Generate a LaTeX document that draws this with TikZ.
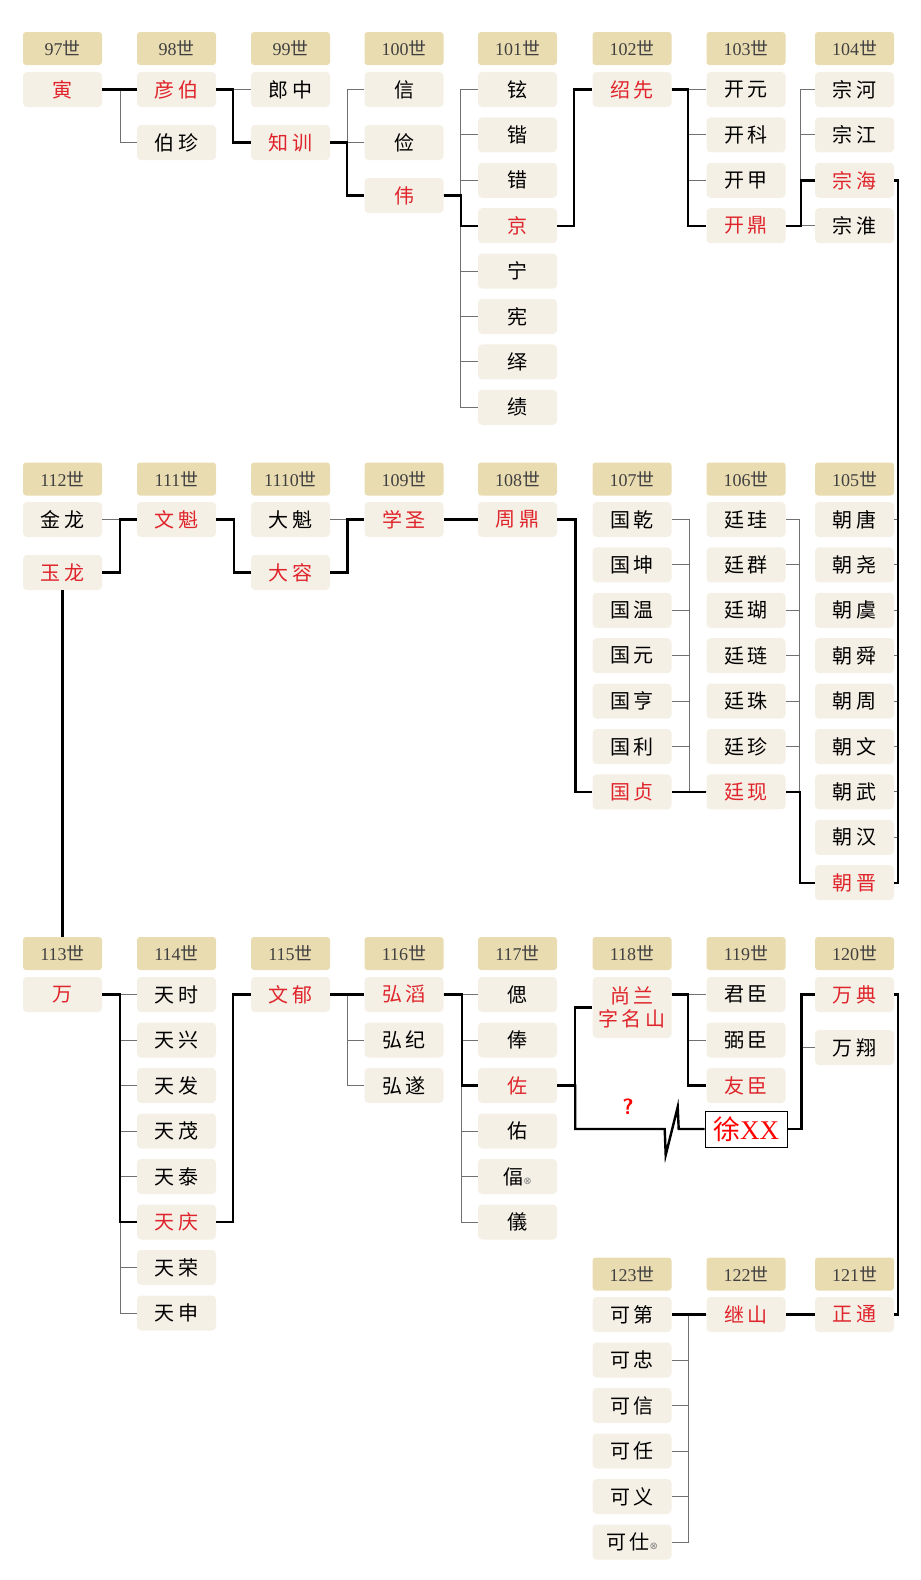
\documentclass[tikz,border=0pt]{standalone}
\usepackage{fontspec}
\setmainfont{Liberation Serif}
\newfontfamily\cjk[LetterSpace=18]{Noto Sans CJK SC}
\newfontfamily\cjkplain{Noto Sans CJK SC}
\newfontfamily\symfont{DejaVu Sans}

\definecolor{namebg}{HTML}{F4F0E6}
\definecolor{genbg}{HTML}{EADCB1}
\definecolor{heirred}{HTML}{E0242B}
\definecolor{twiggray}{HTML}{707070}

\newcommand{\shi}{{\cjkplain 世}}
\newcommand{\lost}{{\symfont\fontsize{10}{10}\selectfont\color{gray}⊗}}

\tikzset{
    genbox/.style={fill=genbg,rounded corners=3pt,minimum width=79pt,minimum height=33pt,inner sep=0pt,text=black!75,font=\fontsize{18}{18}\selectfont},
    kin/.style={fill=namebg,rounded corners=4pt,minimum width=79pt,minimum height=35pt,inner sep=0pt,font=\cjk\fontsize{20}{23}\selectfont},
    heir/.style={kin,text=heirred},
    guess/.style={draw,line width=0.6pt,fill=white,minimum width=82pt,minimum height=36pt,inner sep=0pt,text=red,font=\fontsize{27}{27}\selectfont},
    trunk/.style={line width=2.4pt},
    twig/.style={line width=1pt,twiggray},
}

\begin{document}
\begin{tikzpicture}[x=1pt,y=-1pt]
    \useasboundingbox (0,0) rectangle (921,1580);
    % generations 97 - 104
    \foreach \g/\x in {97/62.5,98/176.5,99/290.5,100/404,101/517.5,102/632,103/746,104/854.5}
        \node[genbox] (h\g) at (\x,48.5) {\g\shi};
    \node[heir] (g97-1) at (62.5,89.5) {寅};
    \foreach \n/\s [count=\i] in {彦伯/heir,伯珍/kin}
        \node[\s] (g98-\i) at (176.5,{89.5+53*(\i-1)}) {\n};
    \foreach \n/\s [count=\i] in {郎中/kin,知训/heir}
        \node[\s] (g99-\i) at (290.5,{89.5+53*(\i-1)}) {\n};
    \foreach \n/\s [count=\i] in {信/kin,俭/kin,伟/heir}
        \node[\s] (g100-\i) at (404,{89.5+53*(\i-1)}) {\n};
    \foreach \n/\s [count=\i] in {铉/kin,锴/kin,错/kin,京/heir,宁/kin,宪/kin,绎/kin,绩/kin}
        \node[\s] (g101-\i) at (517.5,{89.5+45.4*(\i-1)}) {\n};
    \node[heir] (g102-1) at (632,89.5) {绍先};
    \foreach \n/\s [count=\i] in {开元/kin,开科/kin,开甲/kin,开鼎/heir}
        \node[\s] (g103-\i) at (746,{89.5+45.4*(\i-1)}) {\n};
    \foreach \n/\s [count=\i] in {宗河/kin,宗江/kin,宗海/heir,宗淮/kin}
        \node[\s] (g104-\i) at (854.5,{89.5+45.4*(\i-1)}) {\n};

    % generations 105 - 112, right to left
    \foreach \g/\x in {112/62.5,111/176.5,1110/290.5,109/404,108/517.5,107/632,106/746,105/854.5}
        \node[genbox] (h\g) at (\x,479) {\g\shi};
    \foreach \n/\s [count=\i] in {朝唐/kin,朝尧/kin,朝虞/kin,朝舜/kin,朝周/kin,朝文/kin,朝武/kin,朝汉/kin,朝晋/heir}
        \node[\s] (g105-\i) at (854.5,{519.5+45.4*(\i-1)}) {\n};
    \foreach \n/\s [count=\i] in {廷珪/kin,廷群/kin,廷瑚/kin,廷琏/kin,廷珠/kin,廷珍/kin,廷现/heir}
        \node[\s] (g106-\i) at (746,{519.5+45.4*(\i-1)}) {\n};
    \foreach \n/\s [count=\i] in {国乾/kin,国坤/kin,国温/kin,国元/kin,国亨/kin,国利/kin,国贞/heir}
        \node[\s] (g107-\i) at (632,{519.5+45.4*(\i-1)}) {\n};
    \node[heir] (g108-1) at (517.5,519.5) {周鼎};
    \node[heir] (g109-1) at (404,519.5) {学圣};
    \foreach \n/\s [count=\i] in {大魁/kin,大容/heir}
        \node[\s] (g110-\i) at (290.5,{519.5+53*(\i-1)}) {\n};
    \node[heir] (g111-1) at (176.5,519.5) {文魁};
    \foreach \n/\s [count=\i] in {金龙/kin,玉龙/heir}
        \node[\s] (g112-\i) at (62.5,{519.5+53*(\i-1)}) {\n};

    % generations 113 - 120
    \foreach \g/\x in {113/62.5,114/176.5,115/290.5,116/404,117/517.5,118/632,119/746,120/854.5}
        \node[genbox] (h\g) at (\x,953.5) {\g\shi};
    \node[heir] (g113-1) at (62.5,994.5) {万};
    \foreach \n/\s [count=\i] in {天时/kin,天兴/kin,天发/kin,天茂/kin,天泰/kin,天庆/heir,天荣/kin,天申/kin}
        \node[\s] (g114-\i) at (176.5,{994.5+45.5*(\i-1)}) {\n};
    \node[heir] (g115-1) at (290.5,994.5) {文郁};
    \foreach \n/\s [count=\i] in {弘滔/heir,弘纪/kin,弘遂/kin}
        \node[\s] (g116-\i) at (404,{994.5+45.5*(\i-1)}) {\n};
    \foreach \n/\s [count=\i] in {偲/kin,俸/kin,佐/heir,佑/kin,偪\lost/kin,儀/kin}
        \node[\s] (g117-\i) at (517.5,{994.5+45.5*(\i-1)}) {\n};
    \node[heir,minimum height=61pt,align=center] (g118-1) at (632,1007.5) {尚兰\\字名山};
    \foreach \n/\s [count=\i] in {君臣/kin,弼臣/kin,友臣/heir}
        \node[\s] (g119-\i) at (746,{994.5+45.5*(\i-1)}) {\n};
    \node[guess] (xu) at (746,1129) {{\cjkplain 徐}XX};
    \node[text=red,font=\sffamily\bfseries\fontsize{22}{22}\selectfont] (ask) at (628,1107) {?};
    \foreach \n/\s [count=\i] in {万典/heir,万翔/kin}
        \node[\s] (g120-\i) at (854.5,{994.5+53*(\i-1)}) {\n};

    % generations 121 - 123
    \foreach \g/\x in {123/632,122/746,121/854.5}
        \node[genbox] (h\g) at (\x,1274) {\g\shi};
    \node[heir] (g121-1) at (854.5,1314.5) {正通};
    \node[heir] (g122-1) at (746,1314.5) {继山};
    \foreach \n [count=\i] in {可第,可忠,可信,可任,可义,可仕\lost}
        \node[kin] (g123-\i) at (632,{1314.5+45.5*(\i-1)}) {\n};

    % lines, first block
    \foreach \i in {1,2} \draw[twig] (g97-1.east) -- ++(18,0) |- (g98-\i.west);
    \draw[trunk] (g97-1.east) -- ++(18,0) |- (g98-1.west);
    \foreach \i in {1,2} \draw[twig] (g98-1.east) -- ++(17,0) |- (g99-\i.west);
    \draw[trunk] (g98-1.east) -- ++(17,0) |- (g99-2.west);
    \foreach \i in {1,2,3} \draw[twig] (g99-2.east) -- ++(17,0) |- (g100-\i.west);
    \draw[trunk] (g99-2.east) -- ++(17,0) |- (g100-3.west);
    \foreach \i in {1,...,8} \draw[twig] (g100-3.east) -- ++(17,0) |- (g101-\i.west);
    \draw[trunk] (g100-3.east) -- ++(17,0) |- (g101-4.west);
    \draw[trunk] (g101-4.east) -- ++(17,0) |- (g102-1.west);
    \foreach \i in {1,...,4} \draw[twig] (g102-1.east) -- ++(16,0) |- (g103-\i.west);
    \draw[trunk] (g102-1.east) -- ++(16,0) |- (g103-4.west);
    \foreach \i in {1,...,4} \draw[twig] (g103-4.east) -- ++(15,0) |- (g104-\i.west);
    \draw[trunk] (g103-4.east) -- ++(15,0) |- (g104-3.west);
    \foreach \i in {1,...,9} \draw[twig] (g104-3.east) -- ++(4,0) |- (g105-\i.east);
    \draw[trunk] (g104-3.east) -- ++(4,0) |- (g105-9.east);

    % second block
    \foreach \i in {1,...,7} \draw[twig] (g105-9.west) -- ++(-15,0) |- (g106-\i.east);
    \draw[trunk] (g105-9.west) -- ++(-15,0) |- (g106-7.east);
    \foreach \i in {1,...,7} \draw[twig] (g106-7.west) -- ++(-17,0) |- (g107-\i.east);
    \draw[trunk] (g106-7.west) -- ++(-17,0) |- (g107-7.east);
    \draw[trunk] (g107-7.west) -- ++(-17,0) |- (g108-1.east);
    \draw[trunk] (g108-1.west) -- (g109-1.east);
    \foreach \i in {1,2} \draw[twig] (g109-1.west) -- ++(-17,0) |- (g110-\i.east);
    \draw[trunk] (g109-1.west) -- ++(-17,0) |- (g110-2.east);
    \draw[trunk] (g110-2.west) -- ++(-17,0) |- (g111-1.east);
    \foreach \i in {1,2} \draw[twig] (g111-1.west) -- ++(-17,0) |- (g112-\i.east);
    \draw[trunk] (g111-1.west) -- ++(-17,0) |- (g112-2.east);
    \draw[trunk] (g112-2.south) -- (h113.north);

    % third block
    \foreach \i in {1,...,8} \draw[twig] (g113-1.east) -- ++(18,0) |- (g114-\i.west);
    \draw[trunk] (g113-1.east) -- ++(18,0) |- (g114-6.west);
    \draw[trunk] (g114-6.east) -- ++(17,0) |- (g115-1.west);
    \foreach \i in {1,2,3} \draw[twig] (g115-1.east) -- ++(17,0) |- (g116-\i.west);
    \draw[trunk] (g115-1.east) -- ++(17,0) |- (g116-1.west);
    \foreach \i in {1,...,6} \draw[twig] (g116-1.east) -- ++(18,0) |- (g117-\i.west);
    \draw[trunk] (g116-1.east) -- ++(18,0) |- (g117-3.west);
    \draw[trunk] (g117-3.east) -- ++(18,0) |- (g118-1.west);
    \draw[trunk] (g117-3.east) -- ++(18,0) |- ([xshift=-40pt]xu.west) -- ++(1,26) -- ++(12,-48) -- ++(1,22) -- (xu.west);
    \foreach \i in {1,2,3} \draw[twig] (g118-1.east |- g119-1) -- ++(16,0) |- (g119-\i.west);
    \draw[trunk] (g118-1.east |- g119-1) -- ++(16,0) |- (g119-3.west);
    \foreach \i in {1,2} \draw[twig] (xu.east) -- ++(14,0) |- (g120-\i.west);
    \draw[trunk] (xu.east) -- ++(14,0) |- (g120-1.west);
    \draw[trunk] (g120-1.east) -- ++(4,0) |- (g121-1.east);

    % last block
    \draw[trunk] (g121-1.west) -- (g122-1.east);
    \foreach \i in {1,...,6} \draw[twig] (g122-1.west) -- ++(-18,0) |- (g123-\i.east);
    \draw[trunk] (g122-1.west) -- ++(-18,0) |- (g123-1.east);
\end{tikzpicture}
\end{document}
